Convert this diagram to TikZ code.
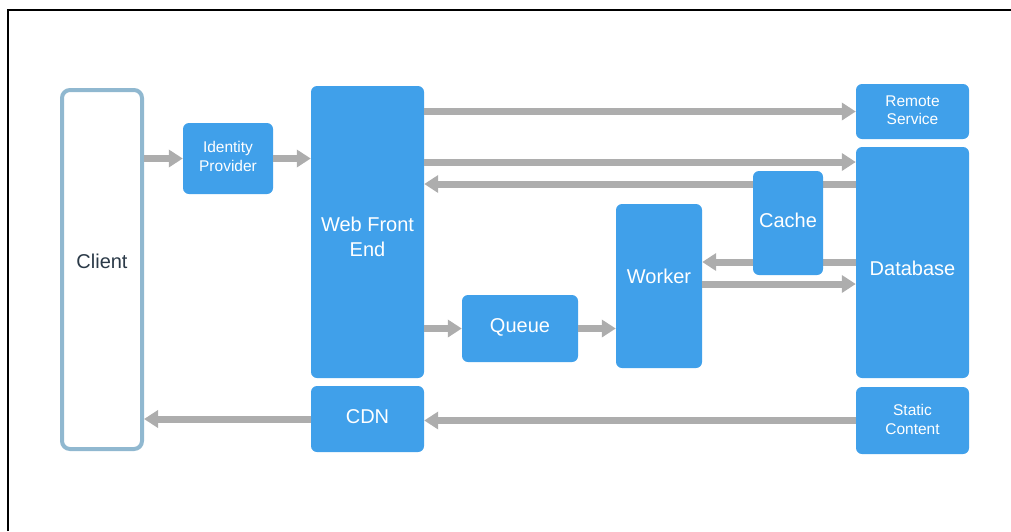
\documentclass[tikz,border=0pt]{standalone}
\usepackage{fontspec}
\setmainfont{Liberation Sans}
\usetikzlibrary{arrows.meta,positioning}
\definecolor{boxblue}{HTML}{40A0EA}
\definecolor{clientline}{HTML}{90B8D0}
\definecolor{flowgray}{HTML}{ADADAD}
\definecolor{clienttext}{HTML}{2B3A48}
\tikzset{
  blk/.style={rectangle,rounded corners=6pt,fill=boxblue,inner sep=0pt},
  clientbox/.style={rectangle,rounded corners=8pt,draw=clientline,line width=4pt,fill=white,inner sep=0pt},
  lbl/.style={text=white,align=center,inner sep=0pt,font=\fontsize{20}{25}\selectfont},
  lblsmall/.style={lbl,font=\fontsize{15.5}{18.5}\selectfont},
  flow/.style={draw=flowgray,line width=7pt,-{Triangle[length=14pt,width=17pt]}},
}
\begin{document}
\begin{tikzpicture}[x=1pt,y=-1pt]
  \useasboundingbox (0,0) rectangle (1011,531);
  % frame
  \draw[line width=1.5pt] (8,531) -- (8,10) -- (1011,10);
  % blocks
  \node[clientbox,minimum width=80,minimum height=359,
    label={[lbl,text=clienttext,yshift=8.5pt]center:Client}] (client) at (102,269.5) {};
  \node[blk,minimum width=90,minimum height=71,
    label={[lblsmall,yshift=2pt]center:Identity\\Provider}] (idp) at (228,158.5) {};
  \node[blk,minimum width=113,minimum height=292,
    label={[lbl,yshift=-5pt]center:Web Front\\End}] (wfe) at (367.5,232) {};
  \node[blk,minimum width=113,minimum height=66,
    label={[lbl,yshift=2.6pt]center:CDN}] (cdn) at (367.5,419) {};
  \node[blk,minimum width=116,minimum height=67,
    label={[lbl,yshift=1.5pt]center:Queue}] (queue) at (520,328.5) {};
  \node[blk,minimum width=86,minimum height=164,
    label={[lbl,yshift=10pt]center:Worker}] (worker) at (659,286) {};
  \node[blk,minimum width=113,minimum height=55,
    label={[lblsmall,yshift=1.5pt]center:Remote\\Service}] (remote) at (912.5,111.5) {};
  \node[blk,minimum width=113,minimum height=231,
    label={[lbl,yshift=-6.2pt]center:Database}] (db) at (912.5,262.5) {};
  \node[blk,minimum width=113,minimum height=67,
    label={[lblsmall,yshift=1.3pt]center:Static\\Content}] (static) at (912.5,420.5) {};
  % flows
  \draw[flow] (client.east |- idp.west) -- (idp.west);
  \draw[flow] (idp.east) -- (wfe.west |- idp.east);
  \draw[flow] (wfe.east |- remote.west) -- (remote.west);
  \draw[flow] (wfe.east |- 0,162) -- (db.west |- 0,162);
  \draw[flow] (db.west |- 0,184) -- (wfe.east |- 0,184);
  \draw[flow] (db.west |- 0,262) -- (worker.east |- 0,262);
  \draw[flow] (worker.east |- 0,284) -- (db.west |- 0,284);
  \draw[flow] (wfe.east |- queue.west) -- (queue.west);
  \draw[flow] (queue.east) -- (worker.west |- queue.east);
  \draw[flow] (static.west) -- (cdn.east |- static.west);
  \draw[flow] (cdn.west) -- (client.east |- cdn.west);
  % cache sits over the flows
  \node[blk,minimum width=70,minimum height=104,
    label={[lbl,yshift=2.5pt]center:Cache}] (cache) at (788,223) {};
\end{tikzpicture}
\end{document}
